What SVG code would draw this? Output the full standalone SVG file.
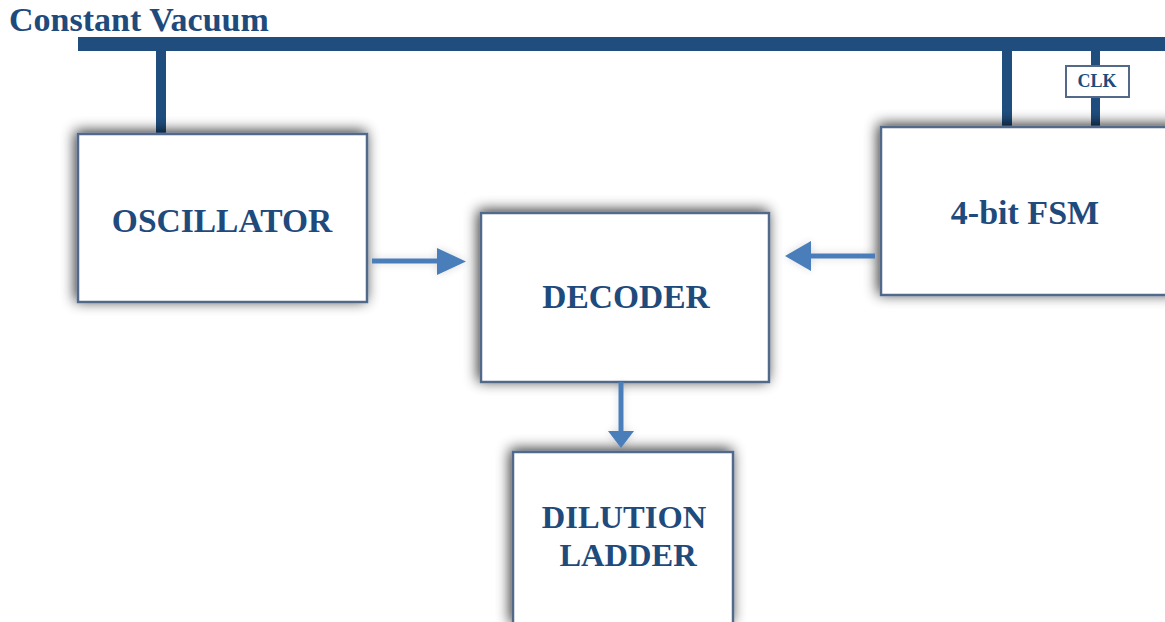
<svg xmlns="http://www.w3.org/2000/svg" width="1165" height="622" viewBox="0 0 1165 622">
  <style>
    .label { font-family: "Liberation Serif", "Times New Roman", serif; font-weight: bold; fill: #1F4A7C; text-anchor: middle; }
    .box { fill: #ffffff; stroke: #52698A; stroke-width: 2.5; }
    .bus { fill: #1F4E7E; }
    .flow { stroke: #4A7EBB; stroke-width: 5; fill: none; }
    .head { fill: #4A7EBB; }
  </style>
  <defs>
    <filter id="shade" x="-20%" y="-20%" width="140%" height="140%">
      <feGaussianBlur in="SourceAlpha" stdDeviation="7"/>
      <feOffset dx="-2" dy="-2" result="b"/>
      <feComponentTransfer><feFuncA type="linear" slope="0.8"/></feComponentTransfer>
      <feMerge><feMergeNode/><feMergeNode in="SourceGraphic"/></feMerge>
    </filter>
    <filter id="halo" x="-30%" y="-60%" width="160%" height="220%">
      <feGaussianBlur in="SourceAlpha" stdDeviation="4"/>
      <feComponentTransfer><feFuncA type="linear" slope="0.15"/></feComponentTransfer>
      <feMerge><feMergeNode/><feMergeNode in="SourceGraphic"/></feMerge>
    </filter>
  </defs>
  <rect width="1165" height="622" fill="#ffffff"/>

  <!-- vacuum supply bus and its taps -->
  <g id="vacuum-bus">
    <text class="label" x="9" y="31" font-size="34" style="text-anchor:start">Constant Vacuum</text>
    <rect class="bus" x="78" y="37" width="1087" height="14"/>
    <rect class="bus" x="156" y="45" width="10" height="90" rx="3"/>
    <rect class="bus" x="1002" y="45" width="10" height="83"/>
    <rect class="bus" x="1091" y="45" width="9" height="83"/>
  </g>

  <g id="clk">
    <rect x="1066" y="66" width="63" height="31" fill="#ffffff" stroke="#52698A" stroke-width="2"/>
    <text class="label" x="1097" y="87" font-size="18">CLK</text>
  </g>

  <g id="oscillator">
    <rect class="box" x="78" y="134" width="289" height="168" filter="url(#shade)"/>
    <text class="label" x="222" y="232" font-size="33.5">OSCILLATOR</text>
  </g>

  <g id="decoder">
    <rect class="box" x="481" y="213" width="288" height="169" filter="url(#shade)"/>
    <text class="label" x="626" y="308" font-size="33.5">DECODER</text>
  </g>

  <g id="fsm">
    <rect class="box" x="881" y="127" width="300" height="168" filter="url(#shade)"/>
    <text class="label" x="1025" y="224" font-size="34">4-bit FSM</text>
  </g>

  <g id="dilution-ladder">
    <rect class="box" x="513" y="452" width="220" height="172" filter="url(#shade)"/>
    <text class="label" x="624" y="528" font-size="32.5">DILUTION</text>
    <text class="label" x="628" y="566" font-size="32.5">LADDER</text>
  </g>

  <!-- signal flow between blocks -->
  <g id="connectors" filter="url(#halo)">
    <line class="flow" x1="372" y1="261" x2="440" y2="261"/>
    <polygon class="head" points="437,248 466,261.5 437,275"/>
    <line class="flow" x1="875" y1="256" x2="808" y2="256"/>
    <polygon class="head" points="811,241 785,256 811,271"/>
    <line class="flow" x1="621" y1="382" x2="621" y2="434"/>
    <polygon class="head" points="608,431 634,431 621,448"/>
  </g>
</svg>
